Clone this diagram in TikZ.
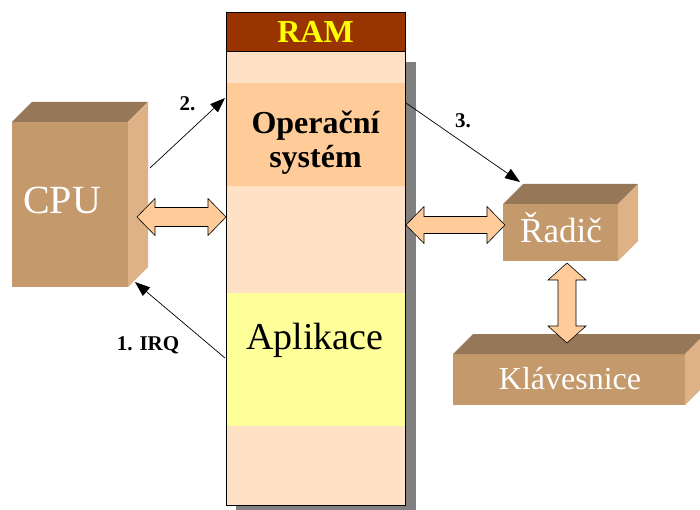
\documentclass[tikz,border=0pt]{standalone}
\usepackage{fontspec}
\setmainfont{Liberation Serif}
\usetikzlibrary{calc,arrows.meta}
\definecolor{ramhead}{HTML}{993300}
\definecolor{ramtext}{HTML}{FFFF00}
\definecolor{ramlight}{HTML}{FFE2C6}
\definecolor{osband}{HTML}{FFCC99}
\definecolor{appband}{HTML}{FFFF99}
\definecolor{shadowgray}{HTML}{808080}
\definecolor{bfront}{HTML}{C49A6C}
\definecolor{btop}{HTML}{967758}
\definecolor{bside}{HTML}{DEB286}
\definecolor{barrow}{HTML}{FFCC99}
\tikzset{
  band/.style={anchor=north west, minimum width=179, inner sep=0, outer sep=0},
  boxfront/.style={fill=bfront, anchor=north west, inner sep=0, outer sep=0},
  boxtop/.style={fill=btop},
  boxside/.style={fill=bside},
  boxlabel/.style={anchor=base, text=white, inner sep=0},
  blockarrow/.style={fill=barrow, draw=black, line width=0.6pt, line join=miter},
  steplabel/.style={anchor=base, inner sep=0, font=\fontsize{21}{24}\selectfont\bfseries},
  flowarrow/.style={draw=black, line width=0.7pt, -{Triangle[length=15pt,width=11pt]}}
}
\newcommand\boxthreed[1]{%
  \fill[boxtop] (#1.north west) -- ([shift={(20,-20)}]#1.north west) -- ([shift={(20,-20)}]#1.north east) -- (#1.north east) -- cycle;
  \fill[boxside] (#1.north east) -- ([shift={(20,-20)}]#1.north east) -- ([shift={(20,-20)}]#1.south east) -- (#1.south east) -- cycle;}
\newcommand\hdarrow[4]{% left, right, half shaft, half head
  \filldraw[blockarrow] let \p1=(#1), \p2=(#2) in
   (\x1,\y1) -- (\x1+18pt,\y1+#4pt) -- (\x1+18pt,\y1+#3pt) -- (\x2-18pt,\y1+#3pt) -- (\x2-18pt,\y1+#4pt) -- (\x2,\y1)
   -- (\x2-18pt,\y1-#4pt) -- (\x2-18pt,\y1-#3pt) -- (\x1+18pt,\y1-#3pt) -- (\x1+18pt,\y1-#4pt) -- cycle;}
\newcommand\vdarrow[2]{% top, bottom
  \filldraw[blockarrow] let \p1=(#1), \p2=(#2) in
   (\x1,\y1) -- (\x1+19pt,\y1-17pt) -- (\x1+9pt,\y1-17pt) -- (\x1+9pt,\y2+17pt) -- (\x1+19pt,\y2+17pt) -- (\x1,\y2)
   -- (\x1-19pt,\y2+17pt) -- (\x1-9pt,\y2+17pt) -- (\x1-9pt,\y1-17pt) -- (\x1-19pt,\y1-17pt) -- cycle;}
\begin{document}
\begin{tikzpicture}[x=1pt,y=-1pt]
\useasboundingbox (0,0) rectangle (700,510);
% RAM shadow
\fill[shadowgray] (236,62) rectangle (416,510);
% RAM
\node[band, fill=ramhead, minimum height=39] (ramhead) at (226,13) {};
\node[anchor=base, inner sep=0, text=ramtext, font=\fontsize{32}{35}\selectfont\bfseries] (ramlbl) at (315.5,43) {RAM};
\node[band, fill=ramlight, minimum height=453] (ram) at (226,52) {};
\node[band, fill=osband, minimum height=103] (os) at (226,83) {};
\node[band, fill=appband, minimum height=133] (app) at (226,293) {};
\draw[line width=1pt] (ramhead.north west) rectangle (ram.south east);
\draw[line width=1pt] (ramhead.south west) -- (ramhead.south east);
\node[anchor=base, inner sep=0, font=\fontsize{32}{35}\selectfont\bfseries] (os1) at (315.5,134) {Operační};
\node[anchor=base, inner sep=0, font=\fontsize{32}{35}\selectfont\bfseries] (os2) at (315.5,168) {systém};
\node[anchor=base, inner sep=0, font=\fontsize{38}{42}\selectfont] (applbl) at (315,349) {Aplikace};
% boxes
\node[boxfront, minimum width=116, minimum height=165] (cpu) at (12,122) {};
\boxthreed{cpu}
\node[boxlabel, font=\fontsize{40}{44}\selectfont] (cpulbl) at (62,214) {CPU};
\node[boxfront, minimum width=115, minimum height=57] (radic) at (503,204) {};
\boxthreed{radic}
\node[boxlabel, font=\fontsize{35}{38}\selectfont] (radiclbl) at (561,243) {Řadič};
\node[boxfront, minimum width=232, minimum height=51] (kbd) at (453,354) {};
\boxthreed{kbd}
\node[boxlabel, font=\fontsize{32}{35}\selectfont] (kbdlbl) at (570,389) {Klávesnice};
% block arrows
\coordinate (cpuR) at (137,217);
\coordinate (ramL) at (226,217);
\coordinate (ramR) at (406,225);
\coordinate (radicL) at (505,225);
\coordinate (radicB) at (567,263);
\coordinate (kbdT) at (567,343);
\hdarrow{cpuR}{ramL}{9.5}{18.5}
\hdarrow{ramR}{radicL}{8.5}{18.5}
\vdarrow{radicB}{kbdT}
% flow arrows
\coordinate (cpuOut) at (150,168);
\coordinate (osIn) at (225,98);
\coordinate (osOut) at (406,103);
\coordinate (radicIn) at (520,182);
\coordinate (appOut) at (225,358);
\coordinate (cpuIn) at (135,282);
\draw[flowarrow] (cpuOut) -- (osIn);
\draw[flowarrow] (osOut) -- (radicIn);
\draw[flowarrow] (appOut) -- (cpuIn);
\node[steplabel] (l2) at (187.5,111) {2.};
\node[steplabel] (l3) at (463,128) {3.};
\node[steplabel] (l1) at (148,350) {1. IRQ};
\end{tikzpicture}
\end{document}
